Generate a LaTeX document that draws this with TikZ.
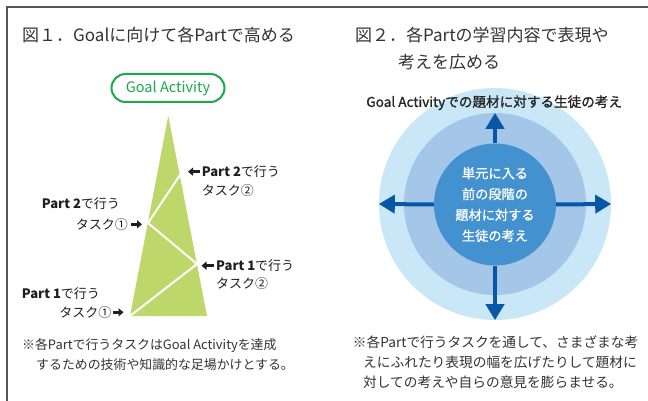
\documentclass[tikz,border=0pt]{standalone}
\usepackage{fontspec}
\setmainfont{Noto Sans CJK JP}
\newfontfamily\jpmed[FakeBold=1.2]{Noto Sans CJK JP}
\usetikzlibrary{arrows.meta}
\definecolor{framec}{HTML}{555555}
\definecolor{txtc}{HTML}{333333}
\definecolor{trig}{HTML}{BDD76A}
\definecolor{goalg}{HTML}{1BA84B}
\definecolor{outerc}{HTML}{C9E7F7}
\definecolor{midc}{HTML}{A4C7E9}
\definecolor{cenc}{HTML}{4392CF}
\definecolor{arrc}{HTML}{0857A6}
\tikzset{
  ttl/.style={anchor=west, inner sep=0, text=txtc, font=\fontsize{17}{20}\selectfont, text height=15pt, text depth=2pt},
  lbl/.style={anchor=west, inner sep=0, text=black!88, font=\fontsize{13}{16}\selectfont, text height=11.4pt, text depth=1.6pt},
  notel/.style={anchor=west, inner sep=0, text=txtc, font=\fontsize{12.9}{16}\selectfont, text height=11.3pt, text depth=1.5pt},
  noter/.style={anchor=west, inner sep=0, text=txtc, font=\fontsize{13.7}{16}\selectfont, text height=12pt, text depth=1.6pt},
  karr/.style={line width=2.6pt, black!88, -{Triangle[length=5pt,width=8pt]}},
  barr/.style={line width=4pt, arrc, -{Triangle[length=16pt,width=18pt]}},
  ring/.style={circle, inner sep=0, draw=none}
}
\begin{document}
\begin{tikzpicture}[x=1pt,y=-1pt]
\useasboundingbox (0,0) rectangle (648,401);
\fill[white] (0,0) rectangle (648,401);
% frame
\draw[framec, line width=1.3pt] (7,401) -- (7,7) -- (648,7);

% ---------- Figure 1 ----------
\node[ttl] (t1) at (22,35) {図１．Goalに向けて各Partで高める};
\node[draw=goalg, line width=2pt, rounded corners=14pt, minimum width=113pt, minimum height=28pt,
      inner sep=0, text=goalg, font=\fontsize{14.5}{16}\selectfont] (goal) at (168,88) {Goal Activity};

\coordinate (apex) at (168.3,116);
\coordinate (bl) at (130,316);
\coordinate (br) at (207,316);
\coordinate (v2) at (197,264);
\coordinate (v3) at (148,223);
\coordinate (v4) at (180,175);
\fill[trig] (apex) -- (bl) -- (br) -- cycle;
\draw[white, line width=2pt, line join=miter] (bl) -- (v2) -- (v3) -- (v4);

% right labels
\node[lbl] (p2ra) at (201.7,171.7) {\textbf{Part 2}で行う};
\node[lbl] (p2rb) at (201.7,191) {タスク②};
\draw[karr] ([xshift=-2pt]p2ra.west) -- ([xshift=8pt]p2ra.west -| v4);
\node[lbl] (p1ra) at (216,265.7) {\textbf{Part 1}で行う};
\node[lbl] (p1rb) at (216,284) {タスク②};
\draw[karr] ([xshift=-2.5pt]p1ra.west) -- ([xshift=4.5pt]p1ra.west -| v2);
% left labels
\node[lbl] (p2la) at (41.7,204) {\textbf{Part 2}で行う};
\node[lbl, anchor=east] (p2lb) at (128,224.3) {タスク①};
\draw[karr] ([xshift=2.5pt]p2lb.east) -- ([xshift=-6pt]p2lb.east -| v3);
\node[lbl] (p1la) at (21.7,293.3) {\textbf{Part 1}で行う};
\node[lbl, anchor=east] (p1lb) at (111.5,312.3) {タスク①};
\draw[karr] ([xshift=1.5pt]p1lb.east) -- ([xshift=-6.5pt]p1lb.east -| bl);

\node[notel] (n1a) at (22,345) {※各Partで行うタスクはGoal Activityを達成};
\node[notel] (n1b) at (36,364.3) {するための技術や知識的な足場かけとする。};

% ---------- Figure 2 ----------
\node[ttl] (t2a) at (355,35) {図２．各Partの学習内容で表現や};
\node[ttl] (t2b) at (398,61.7) {考えを広める};

\node[ring, fill=outerc, minimum size=232pt] (outer) at (495,204) {};
\node[ring, fill=midc, minimum size=182pt] (mid) at (495,204) {};
\node[ring, fill=cenc, minimum size=122pt, text=white, align=center,
      font=\jpmed\fontsize{13.2}{20.8}\selectfont] (cen) at (495,204.5)
      {単元に入る\\前の段階の\\題材に対する\\生徒の考え};

\node[lbl, anchor=center, text=black!85, font=\jpmed\fontsize{13.6}{16}\selectfont] (cap) at (494.2,102)
      {Goal Activityでの題材に対する生徒の考え};

\draw[barr] (cen.north) -- (mid.north);
\draw[barr] (cen.south) -- (outer.south);
\draw[barr] (cen.west) -- (outer.west);
\draw[barr] (cen.east) -- (outer.east);

\node[noter] (n2a) at (352.7,342.7) {※各Partで行うタスクを通して、さまざまな考};
\node[noter] (n2b) at (363,362.7) {えにふれたり表現の幅を広げたりして題材に};
\node[noter] (n2c) at (363,382.7) {対しての考えや自らの意見を膨らませる。};
\end{tikzpicture}
\end{document}
